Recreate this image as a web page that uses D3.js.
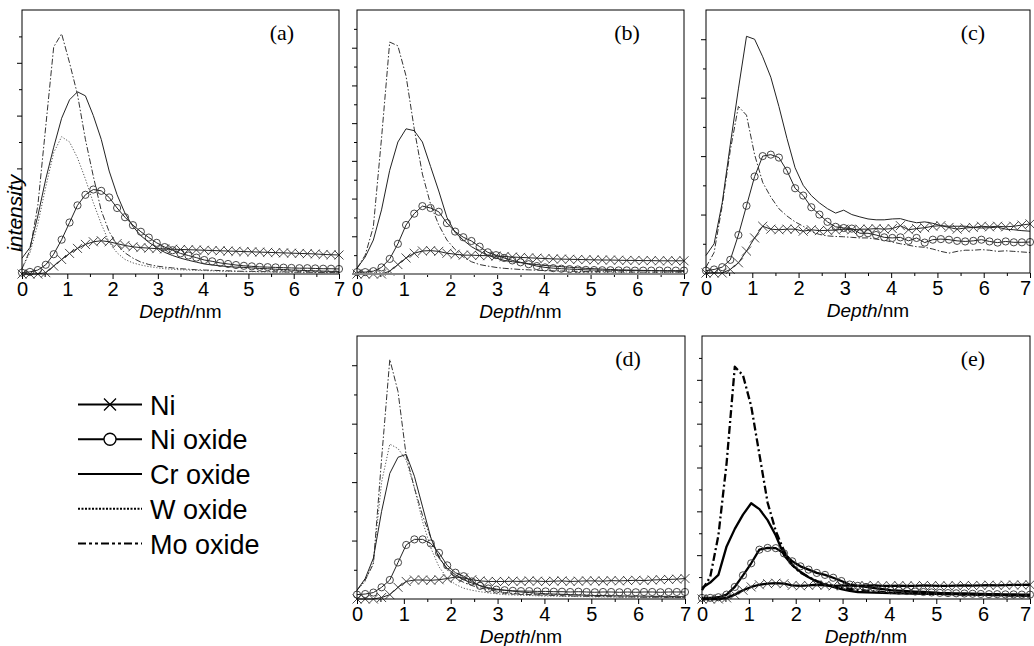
<!DOCTYPE html>
<html>
<head>
<meta charset="utf-8">
<script src="https://cdn.jsdelivr.net/npm/d3@7"></script>
<style>
  body { margin: 0; background: #fff; }
  svg { display: block; }
</style>
</head>
<body>
<div id="chart"></div>
<script>
// depth grid (nm)
const depth = [0, 0.175, 0.35, 0.525, 0.7, 0.875, 1.05, 1.225, 1.4, 1.575, 1.75, 1.925, 2.1, 2.275, 2.45, 2.625, 2.8, 2.975, 3.15, 3.325, 3.5,
  3.675, 3.85, 4.025, 4.2, 4.375, 4.55, 4.725, 4.9, 5.075, 5.25, 5.425, 5.6, 5.775, 5.95, 6.125, 6.3, 6.475, 6.65, 6.825, 7.0];

// (a)
const niA = [0,0,0,0.05,0.3,0.55,0.78,0.97,1.12,1.22,1.26,1.22,1.15,1.08,1.03,1.0,0.98,0.96,0.95,0.94,0.93,0.92,0.91,0.9,0.89,0.88,0.87,0.86,0.85,0.84,0.83,0.82,0.81,0.8,0.79,0.78,0.77,0.76,0.74,0.73,0.72];
const niOxA = [0.05,0.08,0.15,0.35,0.75,1.3,1.95,2.6,3.0,3.2,3.15,2.9,2.5,2.15,1.85,1.6,1.38,1.18,1.02,0.9,0.78,0.7,0.62,0.53,0.48,0.42,0.38,0.34,0.31,0.29,0.27,0.26,0.25,0.24,0.23,0.22,0.22,0.21,0.2,0.2,0.19];
const crOxA = [0.6,1.0,2.2,3.6,4.8,5.9,6.6,6.9,6.75,6.0,5.1,3.9,3.0,2.3,1.8,1.45,1.2,1.0,0.82,0.7,0.6,0.52,0.45,0.38,0.34,0.31,0.28,0.26,0.25,0.23,0.21,0.2,0.18,0.17,0.15,0.14,0.13,0.12,0.11,0.1,0.1];
const wOxA = [0.2,0.8,1.9,3.3,4.6,5.2,5.0,4.4,3.6,2.7,1.9,1.2,0.8,0.55,0.42,0.34,0.28,0.24,0.2,0.18,0.16,0.15,0.14,0.13,0.12,0.11,0.1,0.1,0.09,0.09,0.08,0.08,0.07,0.07,0.07,0.06,0.06,0.06,0.05,0.05,0.05];
const moOxA = [0.2,0.9,2.6,5.6,8.6,9.1,8.0,6.8,5.1,3.7,2.4,1.6,1.1,0.8,0.6,0.45,0.36,0.3,0.26,0.23,0.2,0.18,0.16,0.15,0.14,0.13,0.12,0.11,0.1,0.1,0.09,0.09,0.08,0.08,0.07,0.07,0.07,0.06,0.06,0.06,0.06];

// (b)
const niB = [0,0,0,0,0.15,0.5,0.85,1.1,1.22,1.24,1.2,1.1,1.05,1.0,1.0,0.98,0.97,0.95,0.93,0.9,0.88,0.86,0.84,0.82,0.8,0.79,0.78,0.77,0.76,0.75,0.74,0.74,0.73,0.72,0.72,0.71,0.71,0.7,0.7,0.7,0.7];
const niOxB = [0.1,0.1,0.15,0.35,0.8,1.6,2.6,3.2,3.6,3.5,3.3,2.7,2.25,1.95,1.75,1.45,1.15,1.0,0.85,0.72,0.62,0.52,0.42,0.35,0.31,0.28,0.26,0.24,0.22,0.21,0.2,0.2,0.19,0.19,0.18,0.18,0.18,0.18,0.18,0.18,0.18];
const crOxB = [0.3,0.9,1.8,3.4,5.5,7.0,7.7,7.6,7.0,5.7,4.4,3.0,2.2,1.8,1.45,1.2,1.0,0.85,0.72,0.65,0.6,0.55,0.5,0.45,0.42,0.39,0.36,0.33,0.3,0.28,0.26,0.24,0.22,0.21,0.2,0.19,0.18,0.17,0.16,0.15,0.14];
const moOxB = [0.3,1.0,2.5,7.2,12.3,12.1,10.5,7.7,5.3,3.7,2.6,1.8,1.3,0.9,0.65,0.5,0.42,0.35,0.3,0.27,0.24,0.22,0.2,0.18,0.17,0.16,0.15,0.14,0.13,0.13,0.12,0.12,0.11,0.11,0.1,0.1,0.1,0.1,0.1,0.1,0.1];

// (c)
const niC = [0,0,0,0.12,0.35,0.75,1.2,1.6,1.5,1.48,1.5,1.5,1.43,1.48,1.45,1.46,1.47,1.5,1.48,1.5,1.5,1.52,1.5,1.52,1.62,1.48,1.52,1.55,1.6,1.62,1.56,1.5,1.54,1.56,1.6,1.58,1.6,1.58,1.6,1.64,1.68];
const niOxC = [0.08,0.12,0.2,0.45,1.3,2.3,3.3,4.0,4.05,3.95,3.5,2.9,2.65,2.25,2.0,1.75,1.58,1.54,1.52,1.36,1.36,1.3,1.22,1.2,1.22,1.1,1.2,1.04,1.14,1.16,1.14,1.1,1.08,1.1,1.14,1.08,1.04,1.08,1.05,1.05,1.06];
const crOxC = [0.6,1.0,2.4,4.4,6.3,8.1,8.0,7.4,6.7,5.7,4.6,3.6,3.0,2.65,2.4,2.2,2.05,2.15,2.0,1.92,1.85,1.82,1.82,1.85,1.86,1.78,1.72,1.75,1.7,1.62,1.6,1.6,1.6,1.56,1.54,1.55,1.57,1.5,1.48,1.45,1.43];
const moOxC = [0.2,0.7,2.3,4.2,5.7,5.4,4.05,3.1,2.6,2.2,1.95,1.75,1.6,1.42,1.32,1.27,1.25,1.24,1.22,1.2,1.2,1.16,1.12,1.06,1.0,0.95,0.9,0.88,0.82,0.74,0.68,0.74,0.78,0.78,0.8,0.78,0.74,0.76,0.74,0.72,0.7];

// (d)
const niD = [0,0,0,0.05,0.15,0.4,0.6,0.65,0.65,0.64,0.66,0.7,0.75,0.72,0.66,0.62,0.6,0.6,0.6,0.61,0.6,0.62,0.61,0.6,0.61,0.62,0.6,0.61,0.62,0.62,0.61,0.63,0.62,0.63,0.64,0.63,0.65,0.66,0.67,0.68,0.7];
const niOxD = [0.15,0.17,0.22,0.4,0.65,1.25,1.85,2.04,2.04,1.9,1.58,1.15,0.9,0.78,0.6,0.45,0.36,0.32,0.3,0.28,0.27,0.27,0.26,0.26,0.25,0.25,0.24,0.25,0.24,0.23,0.24,0.24,0.23,0.24,0.23,0.24,0.24,0.23,0.24,0.24,0.24];
const crOxD = [0.3,0.7,1.4,3.0,4.3,4.85,4.95,4.2,3.15,2.1,1.4,1.05,0.83,0.66,0.55,0.46,0.39,0.34,0.3,0.27,0.24,0.22,0.2,0.18,0.17,0.16,0.15,0.14,0.13,0.12,0.12,0.11,0.11,0.1,0.1,0.1,0.09,0.09,0.09,0.08,0.08];
const wOxD = [0.3,0.6,1.3,4.0,5.3,5.15,4.75,3.8,2.65,1.75,1.1,0.72,0.5,0.37,0.3,0.25,0.21,0.18,0.15,0.14,0.13,0.12,0.11,0.1,0.1,0.09,0.09,0.08,0.08,0.07,0.07,0.07,0.06,0.06,0.06,0.05,0.05,0.05,0.05,0.05,0.05];
const moOxD = [0.3,0.65,1.2,4.8,8.2,7.1,4.9,3.8,2.85,2.1,1.45,1.0,0.72,0.57,0.46,0.38,0.32,0.27,0.22,0.19,0.16,0.15,0.14,0.13,0.12,0.11,0.1,0.1,0.09,0.09,0.08,0.08,0.07,0.07,0.07,0.06,0.06,0.06,0.05,0.05,0.05];

// (e)
const niE = [0,0,0,0.05,0.2,0.4,0.55,0.65,0.7,0.72,0.7,0.62,0.6,0.62,0.65,0.62,0.6,0.61,0.62,0.6,0.61,0.62,0.6,0.6,0.61,0.6,0.6,0.62,0.61,0.6,0.6,0.61,0.62,0.61,0.62,0.63,0.62,0.63,0.64,0.64,0.65];
const niOxE = [0.05,0.05,0.08,0.2,0.55,1.08,1.63,2.25,2.33,2.32,2.08,1.72,1.49,1.34,1.19,1.1,0.97,0.82,0.66,0.6,0.55,0.5,0.45,0.4,0.38,0.36,0.34,0.32,0.3,0.28,0.27,0.26,0.25,0.24,0.23,0.22,0.22,0.21,0.21,0.2,0.2];
const crOxE = [0.5,0.75,1.1,2.4,3.2,3.85,4.37,4.1,3.6,2.9,2.0,1.55,1.24,0.99,0.8,0.66,0.55,0.45,0.37,0.32,0.3,0.29,0.28,0.27,0.26,0.26,0.25,0.24,0.24,0.23,0.22,0.22,0.21,0.2,0.2,0.19,0.18,0.18,0.17,0.16,0.15];
const moOxE = [0.4,1.0,2.9,6.2,10.6,10.2,8.8,6.6,4.4,3.1,2.2,1.55,1.2,1.0,0.82,0.7,0.6,0.52,0.46,0.42,0.38,0.35,0.32,0.3,0.28,0.27,0.26,0.25,0.24,0.23,0.22,0.21,0.2,0.2,0.19,0.18,0.18,0.17,0.16,0.16,0.15];

const seriesNames = ["Ni", "Ni oxide", "Cr oxide", "W oxide", "Mo oxide"];
const panelLabels = ["(a)", "(b)", "(c)", "(d)", "(e)"];
const xTicks = [0, 1, 2, 3, 4, 5, 6, 7];
const xMinorTicks = [0.5, 1.5, 2.5, 3.5, 4.5, 5.5, 6.5];

let width = 1034;
let height = 646;

// how each species is drawn
const styles = {
  "Ni":       {dash: null, marker: "cross", color: "#222"},
  "Ni oxide": {dash: null, marker: "circle", color: "#222"},
  "Cr oxide": {dash: null, marker: null, color: "#222"},
  "W oxide":  {dash: "1.2,1.8", marker: null, color: "#555"},
  "Mo oxide": {dash: "6,2,1.5,2", marker: null, color: "#333"}
};

const panels = [
  {label: panelLabels[0], left: 22, top: 10, w: 317, h: 264, yMax: 10, bold: false, yLabel: true,
    data: {"Ni": niA, "Ni oxide": niOxA, "Cr oxide": crOxA, "W oxide": wOxA, "Mo oxide": moOxA}},
  {label: panelLabels[1], left: 357, top: 10, w: 327, h: 264, yMax: 14, bold: false, grayAxis: true,
    data: {"Ni": niB, "Ni oxide": niOxB, "Cr oxide": crOxB, "Mo oxide": moOxB}},
  {label: panelLabels[2], left: 706, top: 10, w: 324, h: 263, yMax: 9, bold: false,
    data: {"Ni": niC, "Ni oxide": niOxC, "Cr oxide": crOxC, "Mo oxide": moOxC}},
  {label: panelLabels[3], left: 357, top: 336, w: 328, h: 263, yMax: 9, bold: false,
    data: {"Ni": niD, "Ni oxide": niOxD, "Cr oxide": crOxD, "W oxide": wOxD, "Mo oxide": moOxD}},
  {label: panelLabels[4], left: 702, top: 336, w: 328, h: 263, yMax: 12, bold: true,
    data: {"Ni": niE, "Ni oxide": niOxE, "Cr oxide": crOxE, "Mo oxide": moOxE}}
];

const svg = d3.select("#chart").append("svg")
    .attr("width", width)
    .attr("height", height)
    .style("background", "#fff");

const sans = "'Liberation Sans', Arial, Helvetica, sans-serif";
const serif = "'Liberation Serif', 'Times New Roman', serif";
const crossPath = "M-4.5,-4.5L4.5,4.5M-4.5,4.5L4.5,-4.5";

panels.forEach(p => {
  const x = d3.scaleLinear().domain([0, 7]).range([p.left, p.left + p.w]);
  const y = d3.scaleLinear().domain([0, p.yMax]).range([p.top + p.h, p.top]);
  const g = svg.append("g");
  const bottom = p.top + p.h;
  const atEdge = p.left + p.w > width - 10;

  // x axis: labelled integer ticks plus half-unit minor ticks
  g.append("g")
      .attr("transform", `translate(0,${bottom})`)
      .call(d3.axisBottom(x).tickValues(xTicks).tickSize(5).tickPadding(3).tickFormat(d3.format("d")))
      .call(a => a.select(".domain").remove())
      .call(a => a.selectAll("text")
          .attr("font-family", sans)
          .attr("font-size", 20)
          .attr("fill", "#000")
          .attr("dx", d => (d === 7 && atEdge) ? -5 : 0));
  g.append("g")
      .attr("transform", `translate(0,${bottom})`)
      .call(d3.axisBottom(x).tickValues(xMinorTicks).tickSize(3).tickFormat(""))
      .call(a => a.select(".domain").remove());

  // y axis: unlabelled, alternating long/short ticks
  const yAll = d3.range(1, p.yMax);
  g.append("g")
      .attr("transform", `translate(${p.left},0)`)
      .call(d3.axisLeft(y).tickValues(yAll.filter(v => v % 2 === 0)).tickSize(5).tickFormat(""))
      .call(a => a.select(".domain").remove());
  g.append("g")
      .attr("transform", `translate(${p.left},0)`)
      .call(d3.axisLeft(y).tickValues(yAll.filter(v => v % 2 === 1)).tickSize(3).tickFormat(""))
      .call(a => a.select(".domain").remove());

  // curves, back to front
  const order = ["Mo oxide", "W oxide", "Cr oxide", "Ni oxide", "Ni"];
  order.filter(name => p.data[name]).forEach(name => {
    const st = styles[name];
    const vals = p.data[name];
    const pts = depth.map((d, i) => [d, vals[i]]);
    const line = d3.line().x(d => x(d[0])).y(d => y(d[1]));
    g.append("path")
        .attr("d", line(pts))
        .attr("fill", "none")
        .attr("stroke", p.bold ? "#000" : st.color)
        .attr("stroke-width", p.bold ? 2.3 : 1)
        .attr("stroke-dasharray", st.dash ? (p.bold ? "8,3,2,3" : st.dash) : null)
        .attr("stroke-linejoin", "round");

    if (st.marker === "circle") {
      g.append("g").selectAll("circle")
        .data(pts)
        .join("circle")
          .attr("cx", d => x(d[0]))
          .attr("cy", d => y(d[1]))
          .attr("r", 3.6)
          .attr("fill", "none")
          .attr("stroke", "#333")
          .attr("stroke-width", 0.9);
    } else if (st.marker === "cross") {
      g.append("g").selectAll("path")
        .data(pts)
        .join("path")
          .attr("transform", d => `translate(${x(d[0])},${y(d[1])})`)
          .attr("d", crossPath)
          .attr("stroke", "#333")
          .attr("stroke-width", 0.9);
    }
  });

  // frame
  g.append("rect")
      .attr("x", p.left).attr("y", p.top)
      .attr("width", p.w).attr("height", p.h)
      .attr("fill", "none")
      .attr("stroke", "#000")
      .attr("stroke-width", 1);
  if (p.grayAxis) {
    g.append("line")
        .attr("x1", p.left - 5).attr("x2", p.left + p.w)
        .attr("y1", bottom).attr("y2", bottom)
        .attr("stroke", "#888")
        .attr("stroke-width", 2);
  }

  // panel tag
  g.append("text")
      .attr("x", p.left + p.w - 57)
      .attr("y", p.top + 30)
      .attr("text-anchor", "middle")
      .attr("font-family", serif)
      .attr("font-size", 22)
      .text(p.label);

  // x title
  const xt = g.append("text")
      .attr("x", p.left + p.w / 2)
      .attr("y", bottom + 44)
      .attr("text-anchor", "middle")
      .attr("font-family", sans)
      .attr("font-size", 19);
  xt.append("tspan").attr("font-style", "italic").text("Depth");
  xt.append("tspan").text("/nm");

  if (p.yLabel) {
    g.append("text")
        .attr("transform", `translate(${p.left},${p.top + p.h * 0.77}) rotate(-90)`)
        .attr("text-anchor", "middle")
        .attr("font-family", sans)
        .attr("font-style", "italic")
        .attr("font-size", 21)
        .text("intensity");
  }
});

// legend
const legend = svg.append("g");
seriesNames.forEach((name, i) => {
  const st = styles[name];
  const ly = 404.5 + i * 34.75;
  legend.append("line")
      .attr("x1", 78).attr("x2", 142)
      .attr("y1", ly).attr("y2", ly)
      .attr("stroke", "#000")
      .attr("stroke-width", 2)
      .attr("stroke-dasharray", name === "W oxide" ? "2,1.5" : name === "Mo oxide" ? "8,3,3,3,3,3" : null);
  if (st.marker === "cross") {
    legend.append("path")
        .attr("transform", `translate(110,${ly})`)
        .attr("d", "M-6,-6L6,6M-6,6L6,-6")
        .attr("stroke", "#000")
        .attr("stroke-width", 1.3);
  } else if (st.marker === "circle") {
    legend.append("circle")
        .attr("cx", 110).attr("cy", ly)
        .attr("r", 6)
        .attr("fill", "#fff")
        .attr("stroke", "#000")
        .attr("stroke-width", 1.3);
  }
  legend.append("text")
      .attr("x", 150)
      .attr("y", ly + 10)
      .attr("font-family", sans)
      .attr("font-size", 27)
      .text(name);
});
</script>
</body>
</html>
